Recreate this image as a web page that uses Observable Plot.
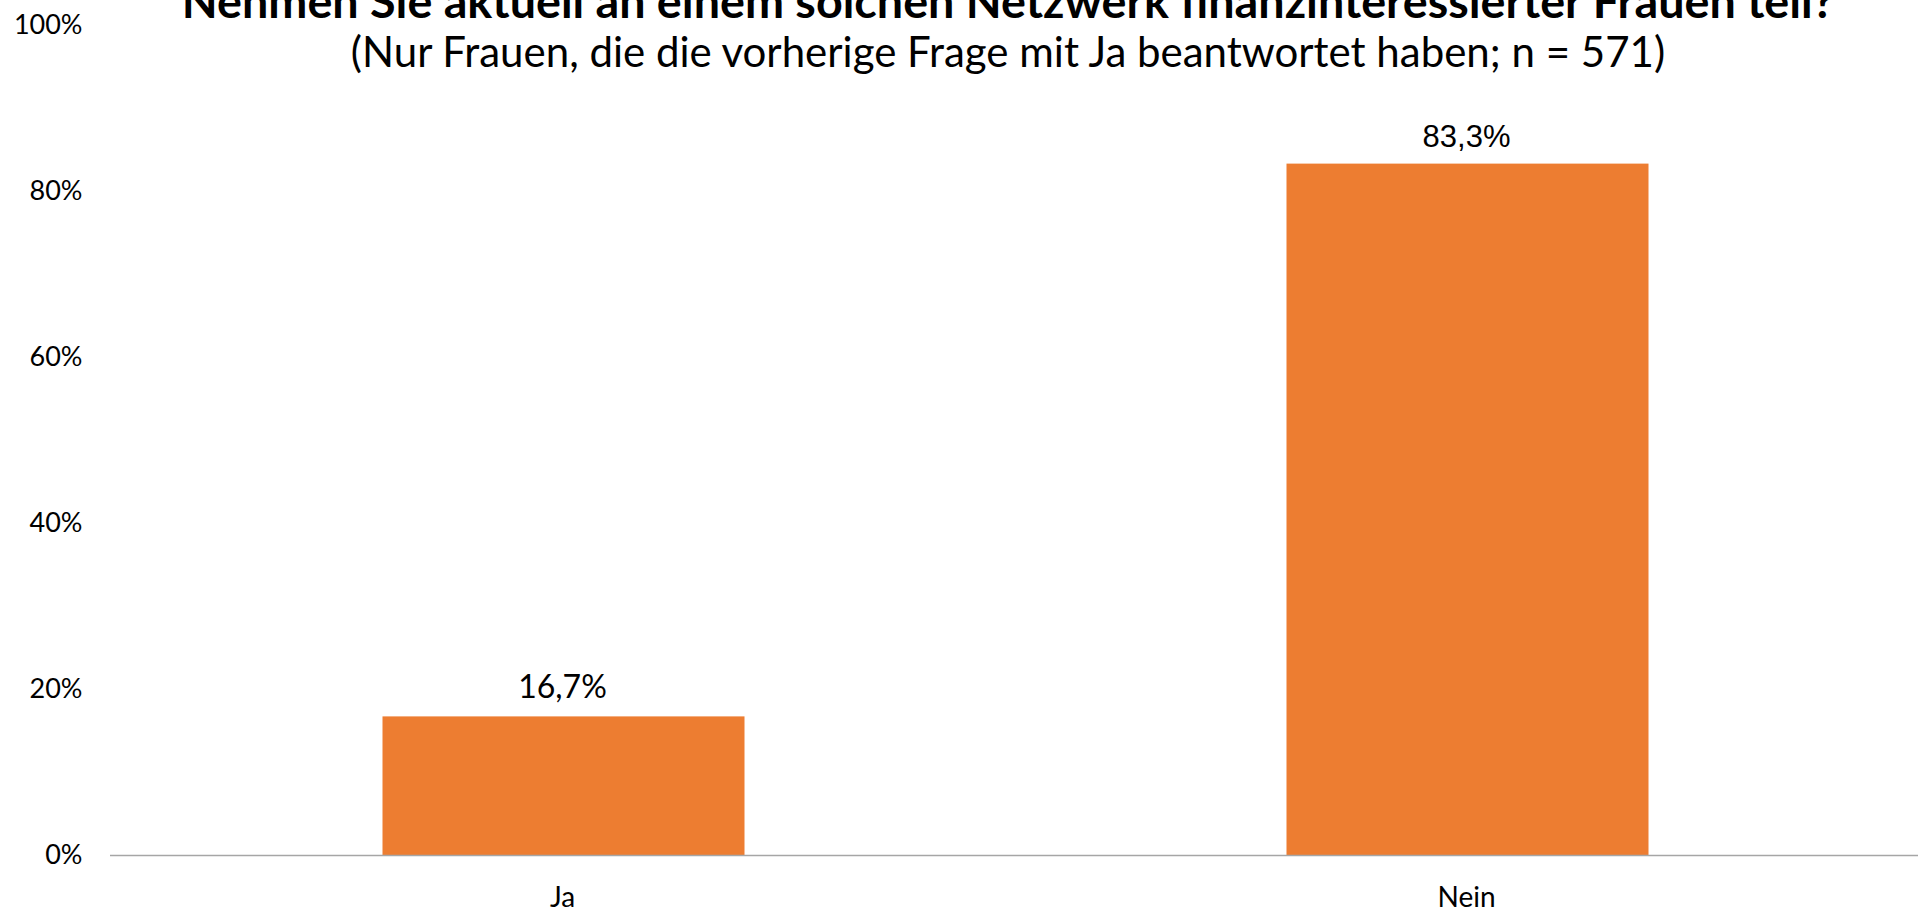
<!DOCTYPE html>
<html>
<head>
<meta charset="utf-8">
<script src="https://cdn.jsdelivr.net/npm/d3@7"></script>
<script src="https://cdn.jsdelivr.net/npm/@observablehq/plot@0.6"></script>
<style>
  html, body { margin: 0; padding: 0; background: #fff; }
  #wrap { position: relative; width: 1918px; height: 912px; overflow: hidden; font-family: Lato, "Open Sans", sans-serif; }
  .ttl { position: absolute; left: 104px; width: 1808px; text-align: center; color: #000; line-height: 1.2; white-space: nowrap; }
  #title { top: -28px; font-size: 46.7px; font-weight: bold; }
  #subtitle { top: 26px; font-size: 42px; }
</style>
</head>
<body>
<div id="wrap">
  <div id="chart"></div>
  <div id="title" class="ttl"></div>
  <div id="subtitle" class="ttl"></div>
</div>
<script>
const titleText = "Nehmen Sie aktuell an einem solchen Netzwerk finanzinteressierter Frauen teil?";
const subtitleText = "(Nur Frauen, die die vorherige Frage mit Ja beantwortet haben; n = 571)";
const categories = ["Ja", "Nein"];
const values = [0.167, 0.833];
const yTicks = [0, 0.2, 0.4, 0.6, 0.8, 1.0];

document.getElementById("title").textContent = titleText;
document.getElementById("subtitle").textContent = subtitleText;

const data = categories.map((c, i) => ({category: c, value: values[i]}));
const fmtPct = d => (d * 100).toFixed(1).replace(".", ",") + "%";

const chart = Plot.plot({
  width: 1918,
  height: 912,
  marginLeft: 110,
  marginRight: 0,
  marginTop: 25,
  marginBottom: 57,
  style: {fontFamily: "Lato, sans-serif", fontSize: "28px", color: "#000", background: "#fff"},
  x: {domain: categories, paddingInner: 0.6, paddingOuter: 0.3, label: null},
  y: {domain: [0, 1], label: null},
  marks: [
    Plot.axisY({ticks: yTicks, tickFormat: d => Math.round(d * 100) + "%", tickSize: 0, tickPadding: 28, fontSize: 27, label: null}),
    Plot.axisX({tickSize: 0, tickPadding: 32, fontSize: 28, label: null}),
    Plot.barY(data, {x: "category", y: "value", fill: "#ED7D31", dx: 1.5}),
    Plot.ruleY([0], {stroke: "#a6a6a6", strokeWidth: 1.5}),
    Plot.text(data, {filter: d => d.category === "Ja", x: "category", y: "value", text: d => fmtPct(d.value), lineAnchor: "bottom", dy: -19, fontSize: 32, fontFamily: "Lato, sans-serif", fill: "#000"}),
    Plot.text(data, {filter: d => d.category === "Nein", x: "category", y: "value", text: d => fmtPct(d.value), lineAnchor: "bottom", dy: -17, fontSize: 31, fontFamily: "'Liberation Sans', Arial, sans-serif", fill: "#000"})
  ]
});
document.getElementById("chart").appendChild(chart);
</script>
</body>
</html>
